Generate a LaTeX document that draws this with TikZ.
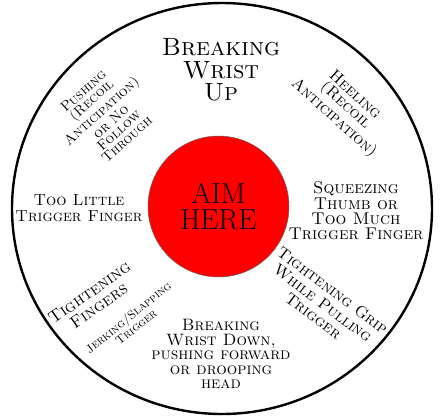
\documentclass[tikz,border=0pt]{standalone}

\begin{document}
\begin{tikzpicture}[x=1pt,y=-1pt,
    label text/.style={align=center,inner sep=0pt,text=black},
    bull/.style={circle,fill=red,draw=black!60,line width=.5pt,minimum size=141pt,inner sep=0pt,align=center}]
        \useasboundingbox (0,0) rectangle (440,416);
        \coordinate (center) at (222,208.5);

        % outer ring
        \draw [line width=2.4pt] (center) ellipse [x radius=210,y radius=205.5];

        % bull
        \node [bull,font=\fontsize{29}{27}\selectfont] (aim) at (218.5,206.5) {AIM\\[-1pt]HERE};

        % top
        \node [label text,font=\fontsize{25}{22.5}\selectfont] (up) at (221,70) {\textsc{Breaking}\\\textsc{Wrist}\\\textsc{Up}};

        % upper left and right
        \node [label text,rotate=42,font=\fontsize{14}{12}\selectfont] (pushing) at (105,115)
            {\textsc{Pushing}\\\textsc{(Recoil}\\\textsc{Anticipation)}\\\textsc{or No}\\\textsc{Follow}\\\textsc{Through}};
        \node [label text,rotate=-42,font=\fontsize{16}{14}\selectfont] (heeling) at (344,107)
            {\textsc{Heeling}\\\textsc{(Recoil}\\\textsc{Anticipation)}};

        % left and right
        \node [label text,font=\fontsize{16}{16}\selectfont] (toolittle) at (79,208)
            {\textsc{Too Little}\\\textsc{Trigger Finger}};
        \node [label text,font=\fontsize{17}{15.3}\selectfont] (squeezing) at (356,211)
            {\textsc{Squeezing}\\\textsc{Thumb or}\\\textsc{Too Much}\\\textsc{Trigger Finger}};

        % lower right
        \node [label text,rotate=-37,font=\fontsize{16}{16}\selectfont] (grip) at (323,303)
            {\textsc{Tightening Grip}\\\textsc{While Pulling}\\\textsc{Trigger}};

        % lower left
        \node [label text,rotate=35,font=\fontsize{17}{16}\selectfont] (fingers) at (94,299)
            {\textsc{Tightening}\\\textsc{Fingers}};
        \node [label text,rotate=39,font=\fontsize{12}{9.6}\selectfont] (jerking) at (132,322)
            {\textsc{Jerking/Slapping}\\\textsc{Trigger}};

        % bottom
        \node [label text,font=\fontsize{16.5}{14.5}\selectfont] (down) at (221,354)
            {\textsc{Breaking}\\\textsc{Wrist Down,}\\\textsc{pushing forward}\\\textsc{or drooping}\\\textsc{head}};

    \end{tikzpicture}
\end{document}
